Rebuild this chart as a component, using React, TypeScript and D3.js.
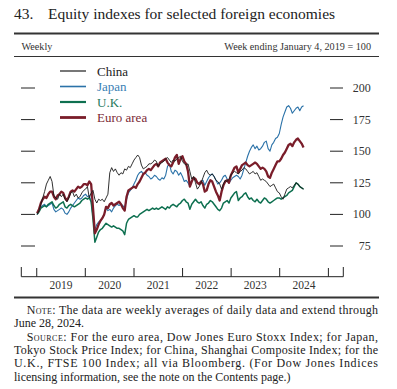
import React from 'react';
import * as d3 from 'd3';

// week ending Jan 4, 2019 = 100; one reading every other week through June 28, 2024
const START = new Date(2019, 0, 4);
const STEP_DAYS = 14;

const yearLabels = ['2019', '2020', '2021', '2022', '2023', '2024'];
const yTicks = [75, 100, 125, 150, 175, 200];

const china = [
    100, 103, 108, 113, 118, 124, 127, 130, 126, 115, 113, 112, 116, 114, 116, 112, 110, 113, 117, 118, 114, 116, 113, 114, 117, 119,
    120, 122, 113, 117, 119, 112, 109, 112, 111, 112, 110, 113, 116, 133, 137, 134, 136, 133, 131, 133, 132, 136, 135, 138, 137, 140,
    143, 145, 147, 145, 139, 136, 137, 138, 140, 140, 141, 143, 142, 138, 140, 141, 142, 144, 145, 143, 141, 143, 142, 144, 145, 146,
    142, 140, 139, 140, 134, 128, 130, 125, 120, 122, 125, 129, 133, 135, 132, 131, 132, 130, 127, 126, 124, 120, 124, 127, 126, 128,
    131, 133, 134, 133, 132, 134, 135, 137, 136, 134, 132, 133, 134, 132, 133, 130, 127, 128, 127, 126, 124, 122, 123, 124, 121, 118,
    117, 114, 112, 116, 120, 121, 122, 121, 123, 125, 124, 122, 121, 120,
];

const japan = [
    100, 103, 106, 107, 108, 106, 107, 108, 109, 104, 102, 103, 104, 105, 104, 101, 100, 102, 105, 107, 109, 111, 113, 112, 113, 115,
    116, 114, 115, 110, 98, 88, 92, 94, 95, 97, 100, 105, 103, 104, 102, 105, 107, 108, 107, 108, 107, 105, 112, 117, 119, 121,
    124, 127, 131, 133, 134, 132, 133, 131, 130, 128, 129, 131, 130, 128, 127, 129, 128, 131, 138, 140, 134, 132, 135, 134, 131, 133,
    130, 126, 127, 125, 122, 127, 129, 127, 125, 124, 126, 127, 123, 126, 129, 131, 132, 130, 127, 124, 125, 127, 130, 131, 128, 125,
    127, 129, 130, 131, 130, 128, 131, 136, 141, 146, 150, 153, 155, 152, 154, 151, 152, 154, 157, 158, 152, 150, 155, 157, 160, 161,
    164, 171, 177, 181, 185, 186, 184, 180, 182, 184, 185, 182, 185, 186,
];

const uk = [
    100, 102, 105, 106, 107, 106, 108, 109, 110, 107, 105, 106, 108, 109, 110, 106, 105, 107, 108, 107, 106, 107, 108, 109, 111, 112,
    113, 112, 113, 110, 96, 78, 82, 86, 88, 89, 91, 93, 92, 91, 90, 91, 90, 89, 89, 88, 87, 84, 93, 96, 97, 98,
    99, 98, 98, 100, 101, 102, 103, 104, 103, 104, 105, 104, 105, 104, 105, 106, 105, 104, 106, 105, 107, 108, 107, 106, 108, 109,
    111, 112, 110, 109, 104, 108, 110, 112, 110, 109, 110, 107, 105, 108, 109, 111, 110, 108, 106, 104, 103, 105, 109, 110, 111, 109,
    113, 115, 117, 118, 111, 113, 114, 116, 117, 114, 112, 113, 111, 110, 112, 110, 109, 111, 113, 112, 110, 109, 110, 111, 112, 113,
    113, 112, 113, 114, 115, 117, 118, 119, 122, 125, 124, 122, 121, 120,
];

const euro = [
    101, 104, 109, 112, 114, 113, 116, 118, 118, 114, 112, 115, 116, 118, 117, 113, 111, 114, 118, 119, 118, 120, 122, 121, 122, 124,
    124, 123, 126, 124, 105, 85, 88, 92, 95, 97, 100, 106, 105, 108, 109, 107, 108, 109, 110, 108, 105, 103, 114, 119, 120, 121,
    122, 121, 124, 126, 129, 132, 133, 135, 136, 135, 137, 139, 140, 138, 141, 142, 143, 144, 141, 139, 138, 141, 145, 147, 140, 144,
    146, 142, 140, 134, 122, 126, 129, 128, 125, 124, 126, 124, 118, 119, 124, 127, 126, 122, 118, 115, 111, 118, 123, 126, 127, 125,
    131, 134, 137, 138, 133, 136, 139, 140, 141, 139, 138, 139, 140, 141, 140, 138, 136, 137, 136, 134, 130, 129, 133, 136, 139, 142,
    142, 144, 147, 149, 152, 155, 156, 154, 157, 159, 160, 158, 156, 153,
];

const legendNames = ['China', 'Japan', 'U.K.', 'Euro area'];

const noteLines = [
    'The data are weekly averages of daily data and extend through',
    'June 28, 2024.',
];
const sourceLines = [
    'For the euro area, Dow Jones Euro Stoxx Index; for Japan,',
    'Tokyo Stock Price Index; for China, Shanghai Composite Index; for the',
    'U.K., FTSE 100 Index; all via Bloomberg. (For Dow Jones Indices',
    'licensing information, see the note on the Contents page.)',
];

const FONT = "'Liberation Serif', 'Times New Roman', serif";

export default function App() {
    const x = d3.scaleTime()
        .domain([new Date(2018, 8, 7), new Date(2025, 3, 23)])
        .range([21.3, 343.3]);
    const y = d3.scaleLinear().domain([75, 200]).range([246, 88]);

    const dates = china.map((_, i) => d3.timeDay.offset(START, i * STEP_DAYS));
    const line = d3.line<number>()
        .x((_d, i) => x(dates[i]))
        .y(d => y(d));

    // drawing order: Japan under, China thin on top
    const series = [
        { name: 'Japan', values: japan, color: '#2b72a8', width: 1.1 },
        { name: 'U.K.', values: uk, color: '#0e7050', width: 1.5 },
        { name: 'Euro area', values: euro, color: '#7a1d2a', width: 2.3 },
        { name: 'China', values: china, color: '#1a1a1a', width: 0.9 },
    ];
    const legendStyle: Record<string, { color: string; width: number; text: string }> = {
        'China': { color: '#555', width: 1.6, text: '#222' },
        'Japan': { color: '#2b72a8', width: 1.6, text: '#3a7fb5' },
        'U.K.': { color: '#0e7050', width: 2.2, text: '#1f7a5c' },
        'Euro area': { color: '#7a1d2a', width: 2.8, text: '#7a2a35' },
    };

    const axisY = 276.7;
    const yearTicks = d3.range(2019, 2026).map(yr => new Date(yr, 0, 1));

    const noteTop = 314;
    const lh = 13.3;
    const left = 14, right = 378, indent = 26.7;

    return (
        <svg width={397} height={389} style={{ position: 'absolute', left: 0, top: 0, background: '#fff' }}
            fontFamily={FONT}>
            <rect width={397} height={389} fill="#fff" />
            {/* title */}
            <text x={14} y={18.5} fontSize={15.5} fill="#222">43.</text>
            <text x={48} y={18.5} fontSize={15.5} fill="#222">Equity indexes for selected foreign economies</text>
            <line x1={14} x2={379} y1={33.5} y2={33.5} stroke="#333" strokeWidth={2} />
            <text x={21.5} y={49.5} fontSize={10.2} fill="#333">Weekly</text>
            <text x={371} y={49.5} fontSize={10.2} fill="#333" textAnchor="end">Week ending January 4, 2019 = 100</text>
            <line x1={14} x2={379} y1={56.5} y2={56.5} stroke="#333" strokeWidth={1} />

            {/* value ticks, both sides */}
            {yTicks.map(t => (
                <g key={t}>
                    <line x1={21} x2={35} y1={y(t)} y2={y(t)} stroke="#222" strokeWidth={1} />
                    <line x1={330} x2={343} y1={y(t)} y2={y(t)} stroke="#222" strokeWidth={1} />
                    <text x={370.7} y={y(t) + 4} fontSize={12} fill="#333" textAnchor="end">{t}</text>
                </g>
            ))}

            {/* time axis */}
            <line x1={21.3} x2={343.3} y1={axisY} y2={axisY} stroke="#222" strokeWidth={1} />
            <line x1={21.3} x2={21.3} y1={267} y2={axisY} stroke="#222" strokeWidth={1} />
            <line x1={343.3} x2={343.3} y1={267} y2={axisY} stroke="#222" strokeWidth={1} />
            {yearTicks.map((d, i) => (
                <line key={i} x1={x(d)} x2={x(d)} y1={268} y2={axisY} stroke="#222" strokeWidth={1} />
            ))}
            {yearLabels.map(lbl => (
                <text key={lbl} x={x(new Date(+lbl, 6, 2))} y={289} fontSize={11.5} fill="#333" textAnchor="middle">{lbl}</text>
            ))}

            {/* series */}
            {series.map(s => (
                <path key={s.name} d={line(s.values) || ''} fill="none" stroke={s.color}
                    strokeWidth={s.width} strokeLinejoin="round" />
            ))}

            {/* legend */}
            {legendNames.map((n, i) => {
                const ly = 71 + i * 15.5;
                const st = legendStyle[n];
                return (
                    <g key={n}>
                        <line x1={60} x2={86} y1={ly} y2={ly} stroke={st.color} strokeWidth={st.width} />
                        <text x={97} y={ly + 4.5} fontSize={13} fill={st.text}>{n}</text>
                    </g>
                );
            })}

            <line x1={14} x2={379} y1={297.5} y2={297.5} stroke="#333" strokeWidth={2} />

            {/* notes */}
            <text x={indent} y={noteTop} fontSize={12} fill="#222" textLength={right - indent} lengthAdjust="spacing">
                <tspan style={{ fontVariant: 'small-caps' }}>Note:</tspan> {noteLines[0]}
            </text>
            <text x={left} y={noteTop + lh} fontSize={12} fill="#222">{noteLines[1]}</text>
            <text x={indent} y={noteTop + lh * 2} fontSize={12} fill="#222" textLength={right - indent} lengthAdjust="spacing">
                <tspan style={{ fontVariant: 'small-caps' }}>Source:</tspan> {sourceLines[0]}
            </text>
            {sourceLines.slice(1).map((s, i) => (
                <text key={i} x={left} y={noteTop + lh * (3 + i)} fontSize={12} fill="#222"
                    {...(i < 2 ? { textLength: right - left, lengthAdjust: 'spacing' } : {})}>{s}</text>
            ))}
        </svg>
    );
}
